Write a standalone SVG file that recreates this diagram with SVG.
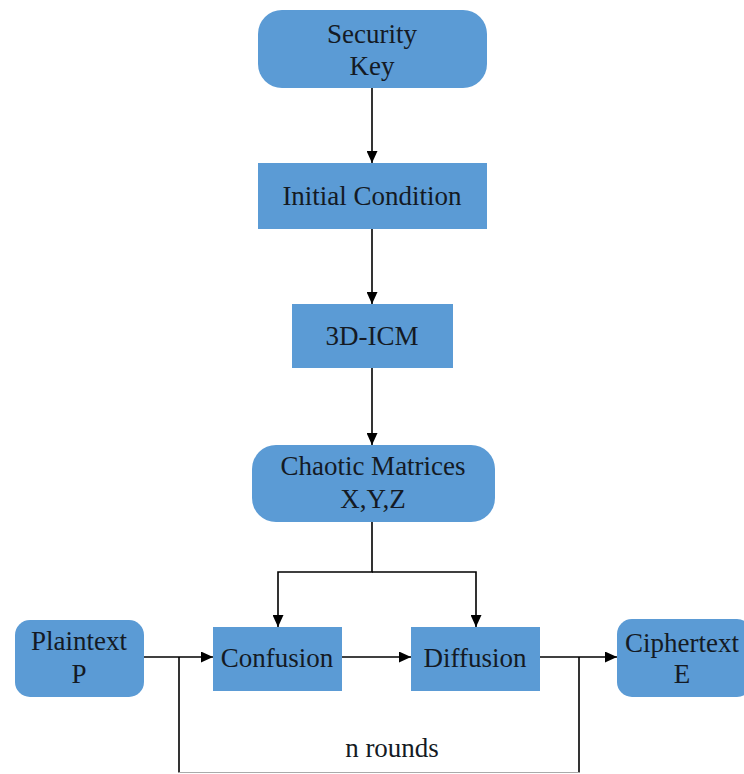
<svg xmlns="http://www.w3.org/2000/svg" width="744" height="774" viewBox="0 0 744 774">
<style>
.box{fill:#5B9BD5;}
.t{font-family:"Liberation Serif","Times New Roman",serif;font-size:27px;fill:#141a24;text-anchor:middle;}
.c{stroke:#000;stroke-width:1.6;fill:none;}
</style>
<defs>
<marker id="ah" viewBox="0 0 12 11" refX="12" refY="5.5" markerWidth="12" markerHeight="11" markerUnits="userSpaceOnUse" orient="auto">
<path d="M0,0 L12,5.5 L0,11 z" fill="#000"/>
</marker>
</defs>
<rect width="744" height="774" fill="#fff"/>
<g id="connectors">
<line class="c" x1="372" y1="88" x2="372" y2="163" marker-end="url(#ah)"/>
<line class="c" x1="372" y1="229" x2="372" y2="304" marker-end="url(#ah)"/>
<line class="c" x1="372" y1="368" x2="372" y2="445" marker-end="url(#ah)"/>
<polyline class="c" points="372,522 372,572 278,572 278,627" marker-end="url(#ah)"/>
<polyline class="c" points="372,572 476,572 476,627" marker-end="url(#ah)"/>
<line class="c" x1="144" y1="657" x2="213" y2="657" marker-end="url(#ah)"/>
<line class="c" x1="342" y1="657" x2="411" y2="657" marker-end="url(#ah)"/>
<line class="c" x1="540" y1="657" x2="617" y2="657" marker-end="url(#ah)"/>
<polyline class="c" points="579,657 579,772.5"/>
<polyline class="c" points="179,657 179,772.5"/>
<line x1="179" y1="772.5" x2="579" y2="772.5" stroke="#aaa" stroke-width="1.2"/>
</g>
<g id="security-key">
<rect class="box" x="258" y="10" width="229" height="78" rx="24"/>
<text class="t" x="372" y="43">Security</text>
<text class="t" x="372" y="75">Key</text>
</g>
<g id="initial-condition">
<rect class="box" x="258" y="163" width="229" height="66"/>
<text class="t" x="372" y="205">Initial Condition</text>
</g>
<g id="icm">
<rect class="box" x="292" y="304" width="161" height="64"/>
<text class="t" x="372" y="345">3D-ICM</text>
</g>
<g id="chaotic-matrices">
<rect class="box" x="252" y="445" width="243" height="77" rx="24"/>
<text class="t" x="373" y="475">Chaotic Matrices</text>
<text class="t" x="373" y="508">X,Y,Z</text>
</g>
<g id="plaintext">
<rect class="box" x="15" y="620" width="129" height="77" rx="15"/>
<text class="t" x="79" y="650">Plaintext</text>
<text class="t" x="79" y="683">P</text>
</g>
<g id="confusion">
<rect class="box" x="213" y="627" width="129" height="64"/>
<text class="t" x="277" y="667">Confusion</text>
</g>
<g id="diffusion">
<rect class="box" x="411" y="627" width="129" height="64"/>
<text class="t" x="475" y="667">Diffusion</text>
</g>
<g id="ciphertext">
<rect class="box" x="617" y="619" width="135" height="78" rx="15"/>
<text class="t" x="682" y="652">Ciphertext</text>
<text class="t" x="682" y="683">E</text>
</g>
<text class="t" x="392" y="757">n rounds</text>
</svg>
